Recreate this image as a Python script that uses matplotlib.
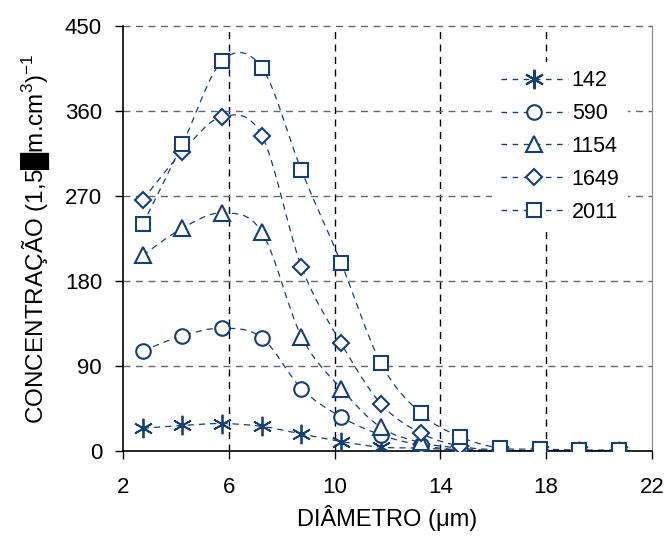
import matplotlib
matplotlib.use('Agg')
from matplotlib import pyplot as plt
from matplotlib.path import Path
from matplotlib.patches import PathPatch

plt.rcParams['font.family'] = ['Liberation Sans', 'DejaVu Sans']
plt.rcParams['mathtext.fontset'] = 'custom'
plt.rcParams['mathtext.rm'] = 'Liberation Sans'
plt.rcParams['mathtext.it'] = 'Liberation Sans:italic'

diametro = [2.75, 4.25, 5.75, 7.25, 8.75, 10.25, 11.75, 13.25, 14.75, 16.25, 17.75, 19.25, 20.75]
s142 = [24, 27, 29, 26, 18, 10, 4, 3, 1, 0, 0, 0, 0]
s590 = [106, 122, 130, 120, 66, 36, 17, 6, 1, 0, 0, 0, 0]
s1154 = [207, 236, 252, 232, 121, 66, 25, 9, 3, 0, 0, 0, 0]
s1649 = [266, 317, 354, 334, 195, 114, 50, 19, 5, 1, 0, 0, 0]
s2011 = [240, 325, 413, 406, 297, 199, 93, 40, 15, 3, 2, 1, 1]

series = [('142', s142, (6, 2, 0)), ('590', s590, 'o'), ('1154', s1154, '^'),
          ('1649', s1649, 'D'), ('2011', s2011, 's')]
sizes = {'o': 10.5, '^': 11, 'D': 8.5, 's': 9.5}
color = '#163F73'


def smooth_path(x, y):
    # excel-like smoothed line: bezier segments through the points
    verts = [(x[0], y[0])]
    codes = [Path.MOVETO]
    n = len(x)
    for i in range(n - 1):
        x0, y0 = (x[i - 1], y[i - 1]) if i > 0 else (x[i], y[i])
        x3, y3 = (x[i + 2], y[i + 2]) if i + 2 < n else (x[i + 1], y[i + 1])
        c1 = (x[i] + (x[i + 1] - x0) / 6, y[i] + (y[i + 1] - y0) / 6)
        c2 = (x[i + 1] - (x3 - x[i]) / 6, y[i + 1] - (y3 - y[i]) / 6)
        verts += [c1, c2, (x[i + 1], y[i + 1])]
        codes += [Path.CURVE4] * 3
    return Path(verts, codes)


fig = plt.figure(figsize=(6.68, 5.42), dpi=100)
ax = fig.add_axes([0.184, 0.168, 0.792, 0.784])

for v in [6, 10, 14, 18]:
    ax.axvline(v, color='black', lw=1, ls=(0, (5, 4)), zorder=1)
for v in [90, 180, 270, 360, 450]:
    ax.axhline(v, color='#666666', lw=1, ls=(0, (5, 4)), zorder=1, clip_on=False)

for name, vals, m in series:
    ax.add_patch(PathPatch(smooth_path(diametro, vals), fill=False, edgecolor=color,
                           lw=0.9, ls=(0, (5, 4)), zorder=2))
    ms = sizes.get(m, 14)
    ax.plot(diametro, vals, ls='none', marker=m, markersize=ms,
            markerfacecolor='white', markeredgecolor=color,
            markeredgewidth=1.5 if m != (6, 2, 0) else 1.3, zorder=3)
    # legend proxy
    ax.plot([], [], ls=(0, (4, 4)), lw=1, color=color, marker=m,
            markersize=ms, markerfacecolor='white',
            markeredgecolor=color, markeredgewidth=1.5, label=name)

ax.set_xlim(2, 22)
ax.set_ylim(0, 450)
ax.set_xticks([2, 6, 10, 14, 18, 22])
ax.set_yticks([0, 90, 180, 270, 360, 450])
ax.tick_params(labelsize=16, direction='out', width=1)
ax.tick_params(axis='x', length=5.5, pad=13.5)
ax.tick_params(axis='y', length=6, pad=9)
ax.spines['top'].set_visible(False)
ax.spines['right'].set_color('#888888')
ax.spines['left'].set_linewidth(1.2)
ax.spines['bottom'].set_linewidth(1.2)

ax.set_xlabel('DIÂMETRO (μm)', fontsize=17, labelpad=5)
ax.set_ylabel('CONCENTRAÇÃO (1,5█m.cm$^{3}$)$^{-1}$', fontsize=17.5, labelpad=9)

leg = ax.legend(loc='upper left', bbox_to_anchor=(0.698, 0.916), fontsize=15.5,
                handlelength=3.1, labelspacing=0.55, borderpad=0.4,
                frameon=True, edgecolor='white', facecolor='white', framealpha=1,
                handletextpad=0.2, borderaxespad=0)
leg.get_frame().set_linewidth(0)

plt.savefig('out.png', dpi=100)
